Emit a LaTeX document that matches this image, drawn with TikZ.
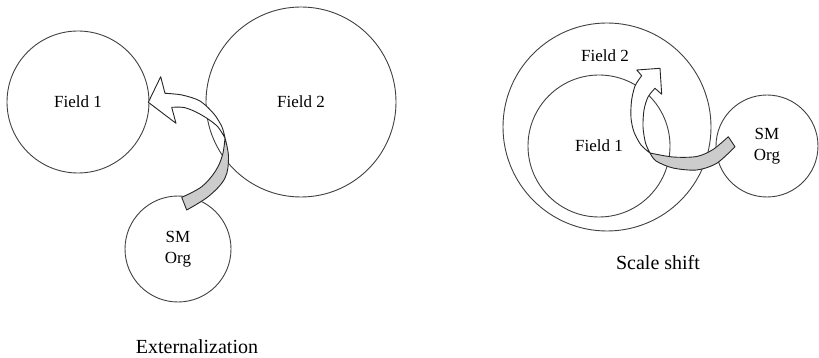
\documentclass[tikz,border=0pt]{standalone}
\usepackage{fontspec}
\setmainfont{Liberation Serif}
\usetikzlibrary{positioning}

\begin{document}
\begin{tikzpicture}[x=1pt,y=-1pt,
    field/.style={circle,draw=black!75,line width=0.9pt,inner sep=0pt,align=center,
      font=\fontsize{17}{21}\selectfont},
    tag/.style={font=\fontsize{17}{21}\selectfont},
    caption/.style={font=\fontsize{20}{24}\selectfont},
    twist/.style={draw=black!85,line width=0.9pt,line join=round}]
  \useasboundingbox (0,0) rectangle (819,358);
  % Externalization
  \node[field,minimum size=142pt] (fieldA) at (78,102) {Field 1};
  \node[field,minimum size=190pt] (fieldB) at (301,102) {Field 2};
  \node[field,minimum size=106pt] (org) at (178,249) {SM\\Org};
  \node[caption] (ext) at (197,347) {Externalization};
  \filldraw[twist,fill=gray!40] plot[smooth,tension=0.6] coordinates {(225,138) (228.5,157) (225,178) (209,196) (186.7,210)}
    -- (181.7,197.3) -- plot[smooth,tension=0.6] coordinates {(181.7,197.3) (201.7,186.7) (215.5,171) (222.5,155) (225,138)} -- cycle;
  \filldraw[twist,fill=white] (160.7,76.7) -- plot[smooth] coordinates {(165,93.3) (182,95) (200,101) (214,114) (222,127) (225,138)}
    -- plot[smooth] coordinates {(225,138) (218,127) (208,119) (196,112) (184,107.5) (171.7,107.3)}
    -- (176,123.3) -- (148.3,102.3) -- cycle;
  % Scale shift
  \node[field,minimum size=208pt] (fieldD) at (607,127) {};
  \node[field,minimum size=142pt] (fieldC) at (599,146) {Field 1};
  \node[tag] (fieldDtag) at (605,56) {Field 2};
  \node[field,minimum size=102pt] (orgB) at (767,146) {SM\\Org};
  \node[caption] (shift) at (658,263) {Scale shift};
  \filldraw[twist,fill=gray!40] plot[smooth] coordinates {(650,153) (656,161) (673,168) (696.7,170) (716.7,163.3) (735,146.7)}
    -- (728.3,136.7) -- plot[smooth] coordinates {(728.3,136.7) (713,149.5) (696.7,156.5) (673,157) (650,153)} -- cycle;
  \filldraw[twist,fill=white] (636.7,70) -- plot[smooth] coordinates {(641.7,75.7) (635,86) (631.5,101) (631,118) (634,132) (641,145) (650,153)}
    -- plot[smooth] coordinates {(650,153) (645.5,143) (643,127) (644,110) (648,97) (655,88.3)}
    -- (661.7,94.3) -- (660,68.3) -- cycle;
\end{tikzpicture}
\end{document}
